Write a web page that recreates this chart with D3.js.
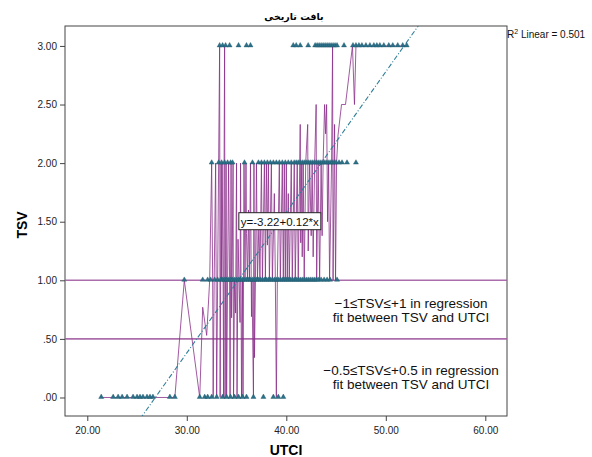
<!DOCTYPE html>
<html><head><meta charset="utf-8">
<script src="https://cdn.jsdelivr.net/npm/d3@7"></script>
<style>
html,body{margin:0;padding:0;background:#fff;}
svg{display:block;}
text{font-family:"Liberation Sans",Arial,sans-serif;}
</style></head>
<body><svg id="c" width="592" height="457"></svg>
<script>
// ---- data ----
const title = "بافت تاریخی";
const xTicks = [20, 30, 40, 50, 60];
const yTicks = [0, 0.5, 1, 1.5, 2, 2.5, 3];
const refLevels = [1, 0.5];
const regIntercept = -3.22, regSlope = 0.12;
const r2Label = " Linear = 0.501";
const eqLabel = "y=-3.22+0.12*x";
const noteA = ["\u22121\u2264TSV\u2264+1 in regression", "fit between TSV and UTCI"];
const noteB = ["\u22120.5\u2264TSV\u2264+0.5 in regression", "fit between TSV and UTCI"];

// observed points per TSV level (UTCI values)
const tsv0UTCI = [21.4,22.6,23.1,23.5,24.0,24.6,25.0,25.3,25.6,26.0,26.3,26.6,28.3,28.8,31.3,31.8,32.1,32.5,33.0,33.6,34.0,34.4,34.8,35.2,35.6,36.0,36.7,37.7,38.7,39.2,39.7];
const tsv1UTCI = [29.75,31.6,32.1,32.4,32.8,33.1,33.4,33.6,33.8,34.0,34.2,34.4,34.6,34.8,35.0,35.2,35.4,35.6,35.8,36.0,36.2,36.4,36.6,36.8,37.0,37.2,37.4,37.6,37.8,38.0,38.2,38.4,38.6,38.8,39.0,39.2,39.4,39.6,39.8,40.0,40.2,40.4,40.6,40.8,41.0,41.2,41.4,41.6,41.8,42.0,42.2,42.4,42.6,42.8,43.0,43.2,43.5,43.8,44.1,44.4,45.1];
const tsv2UTCI = [32.5,33.2,33.5,33.8,34.1,34.4,34.6,35.8,36.6,37.2,37.5,37.8,38.1,38.4,38.7,39.0,39.3,39.6,39.9,40.2,40.5,40.8,41.0,41.2,41.4,41.6,41.8,42.0,42.2,42.4,42.6,42.8,43.0,43.2,43.4,43.6,43.8,44.0,44.2,44.4,44.6,44.8,45.0,45.3,45.6,46.1,47.0];
const tsv3UTCI = [33.3,33.6,33.9,34.3,35.2,36.0,36.4,40.7,41.0,41.4,42.2,42.9,43.1,43.3,43.5,43.7,43.9,44.1,44.3,44.5,44.7,44.9,45.1,45.8,46.7,47.0,47.3,47.6,48.0,48.4,48.8,49.1,49.4,49.8,50.3,50.7,51.2,51.7,52.1];

// interpolation line vertices (UTCI, TSV)
const lineUTCI = [21.4,22.6,23.5,24.6,25.6,26.6,28.3,28.8,29.75,31.3,31.6,32.0,32.3,32.5,32.6,32.65,32.75,32.9,33.0,33.1,33.2,33.3,33.35,33.45,33.5,33.55,33.65,33.7,33.75,33.8,33.85,33.95,34.0,34.1,34.2,34.3,34.35,34.45,34.5,34.55,34.65,34.7,34.8,34.9,35.0,35.05,35.15,35.25,35.35,35.4,35.5,35.6,35.65,35.75,35.85,35.95,36.0,36.1,36.2,36.3,36.4,36.5,36.55,36.7,36.75,36.8,36.9,37.0,37.1,37.25,37.35,37.5,37.6,37.8,37.9,38.0,38.1,38.2,38.3,38.5,38.6,38.8,38.9,39.0,39.1,39.3,39.4,39.6,39.7,39.8,39.9,40.0,40.1,40.2,40.3,40.5,40.6,40.8,40.9,41.1,41.2,41.4,41.45,41.55,41.6,41.7,41.8,41.95,42.15,42.2,42.35,42.5,42.6,42.7,42.85,43.0,43.05,43.2,43.35,43.5,43.6,43.7,43.85,43.95,44.05,44.15,44.25,44.35,44.55,44.65,44.7,44.85,44.95,45.05,45.2,45.55,45.95,46.65,46.85,47.0,52.1];
const lineTSV  = [0,0,0,0,0,0,0,0,1,0,0.77,0.53,1,2,1,0,1,2,0,1,2,3,0,2,1,2,1,0,2,3,0,2,0,1,2,1,0,2,0.68,1,2,0,1,0.72,2,0,1.35,1,0.64,2,0,1,0,2,1,2,1.4,1,1.6,1,2,0.69,1,0,2,0.34,1,2,1,1.5,1,2,1,2,1,2,1.3,2,1,2,1,1.74,1,0,1,2,1,2,1,2,1,2,1,1.74,1,2,1,2,1,2,1,2.33,1.32,2,1.2,2,1,2,2.33,1.25,2,1.38,2,1.2,2,2.5,1,2,1,2,1.38,2,2.5,2.25,2.5,1.5,2,1,2,3,1,2.33,1,2,2.24,2.5,2.5,3,2.5,3,3];

// ---- drawing ----
const svg = d3.select("#c");
const L = 65, R = 507, T = 26, B = 416;
const x = d3.scaleLinear().domain([17.76, 62.18]).range([L, R]);
const y = d3.scaleLinear().domain([-0.158, 3.17]).range([B, T]);
const fmt = d => d3.format(".2f")(d).replace(/^0\./, ".");

svg.append("defs").append("clipPath").attr("id", "clip")
  .append("rect").attr("x", L).attr("y", T).attr("width", R - L).attr("height", B - T);

// title
svg.append("text").attr("x", 294).attr("y", 20).attr("text-anchor", "middle")
  .style("font-family", "'DejaVu Sans',sans-serif").style("font-size", "9.5px").style("font-weight", "bold")
  .text(title);

// frame
svg.append("rect").attr("x", L).attr("y", T).attr("width", R - L).attr("height", B - T)
  .attr("fill", "none").attr("stroke", "#444").attr("stroke-width", 1);

const plot = svg.append("g").attr("clip-path", "url(#clip)");

// reference lines
plot.selectAll(".ref").data(refLevels).enter().append("line")
  .attr("x1", L).attr("x2", R).attr("y1", d => y(d)).attr("y2", d => y(d))
  .attr("stroke", "#a45ea4").attr("stroke-width", 1.6).attr("opacity", 0.9);

// interpolation line
const lineData = lineUTCI.map((u, i) => [u, lineTSV[i]]);
plot.append("path").datum(lineData)
  .attr("d", d3.line().x(d => x(d[0])).y(d => y(d[1])))
  .attr("fill", "none").attr("stroke", "#8a2f8a").attr("stroke-width", 1).attr("opacity", 0.8);

// regression line
const regX = x.domain();
plot.append("line")
  .attr("x1", x(regX[0])).attr("y1", y(regIntercept + regSlope * regX[0]))
  .attr("x2", x(regX[1])).attr("y2", y(regIntercept + regSlope * regX[1]))
  .attr("stroke", "#2f7f99").attr("stroke-width", 1.1).attr("stroke-dasharray", "5,2,1,2");

// points
const pts = [];
[[tsv0UTCI, 0], [tsv1UTCI, 1], [tsv2UTCI, 2], [tsv3UTCI, 3]].forEach(([arr, lv]) => arr.forEach(u => pts.push([u, lv])));
const tri = d3.symbol().type(d3.symbolTriangle).size(11);
plot.selectAll(".pt").data(pts).enter().append("path")
  .attr("transform", d => `translate(${x(d[0])},${y(d[1]) - 0.5})`)
  .attr("d", tri).attr("fill", "#2b7189").attr("stroke", "#1c5468").attr("stroke-width", 0.4);

// axes
const xa = svg.append("g").attr("transform", `translate(0,${B})`)
  .call(d3.axisBottom(x).tickValues(xTicks).tickFormat(fmt).tickSize(5).tickSizeOuter(0));
const ya = svg.append("g").attr("transform", `translate(${L},0)`)
  .call(d3.axisLeft(y).tickValues(yTicks).tickFormat(fmt).tickSize(5).tickSizeOuter(0));
[xa, ya].forEach(a => {
  a.select(".domain").remove();
  a.selectAll("line").attr("stroke", "#444");
  a.selectAll("text").style("font-family", "'Liberation Sans',Arial,sans-serif").style("font-size", "10px").attr("fill", "#222");
});
xa.selectAll("text").attr("dy", "0.95em");

// axis titles
svg.append("text").attr("x", 286).attr("y", 455).attr("text-anchor", "middle")
  .style("font-size", "14px").style("font-weight", "bold").text("UTCI");
svg.append("text").attr("transform", "translate(27,225) rotate(-90)").attr("text-anchor", "middle")
  .style("font-size", "14px").style("font-weight", "bold").text("TSV");

// R2 label
const r2 = svg.append("text").attr("x", 507).attr("y", 38).style("font-size", "10px").attr("fill", "#111");
r2.append("tspan").text("R");
r2.append("tspan").attr("dy", -4).style("font-size", "7px").text("2");
r2.append("tspan").attr("dy", 4).text(r2Label);

// equation box
const eqX = 39.35, eqY = 1.5;
const eg = svg.append("g");
eg.append("rect").attr("x", x(eqX) - 41).attr("y", y(eqY) - 9).attr("width", 82).attr("height", 17)
  .attr("fill", "#fff").attr("stroke", "#222").attr("stroke-width", 1);
eg.append("text").attr("x", x(eqX)).attr("y", y(eqY) + 4).attr("text-anchor", "middle")
  .style("font-size", "11.5px").attr("fill", "#111").text(eqLabel);

// notes
const notes = svg.append("g").style("font-size", "13.5px").attr("fill", "#111");
noteA.forEach((t, i) => notes.append("text").attr("x", 411).attr("y", 308 + i * 13.5).attr("text-anchor", "middle").text(t));
noteB.forEach((t, i) => notes.append("text").attr("x", 411).attr("y", 375 + i * 13.5).attr("text-anchor", "middle").text(t));
</script></body></html>
